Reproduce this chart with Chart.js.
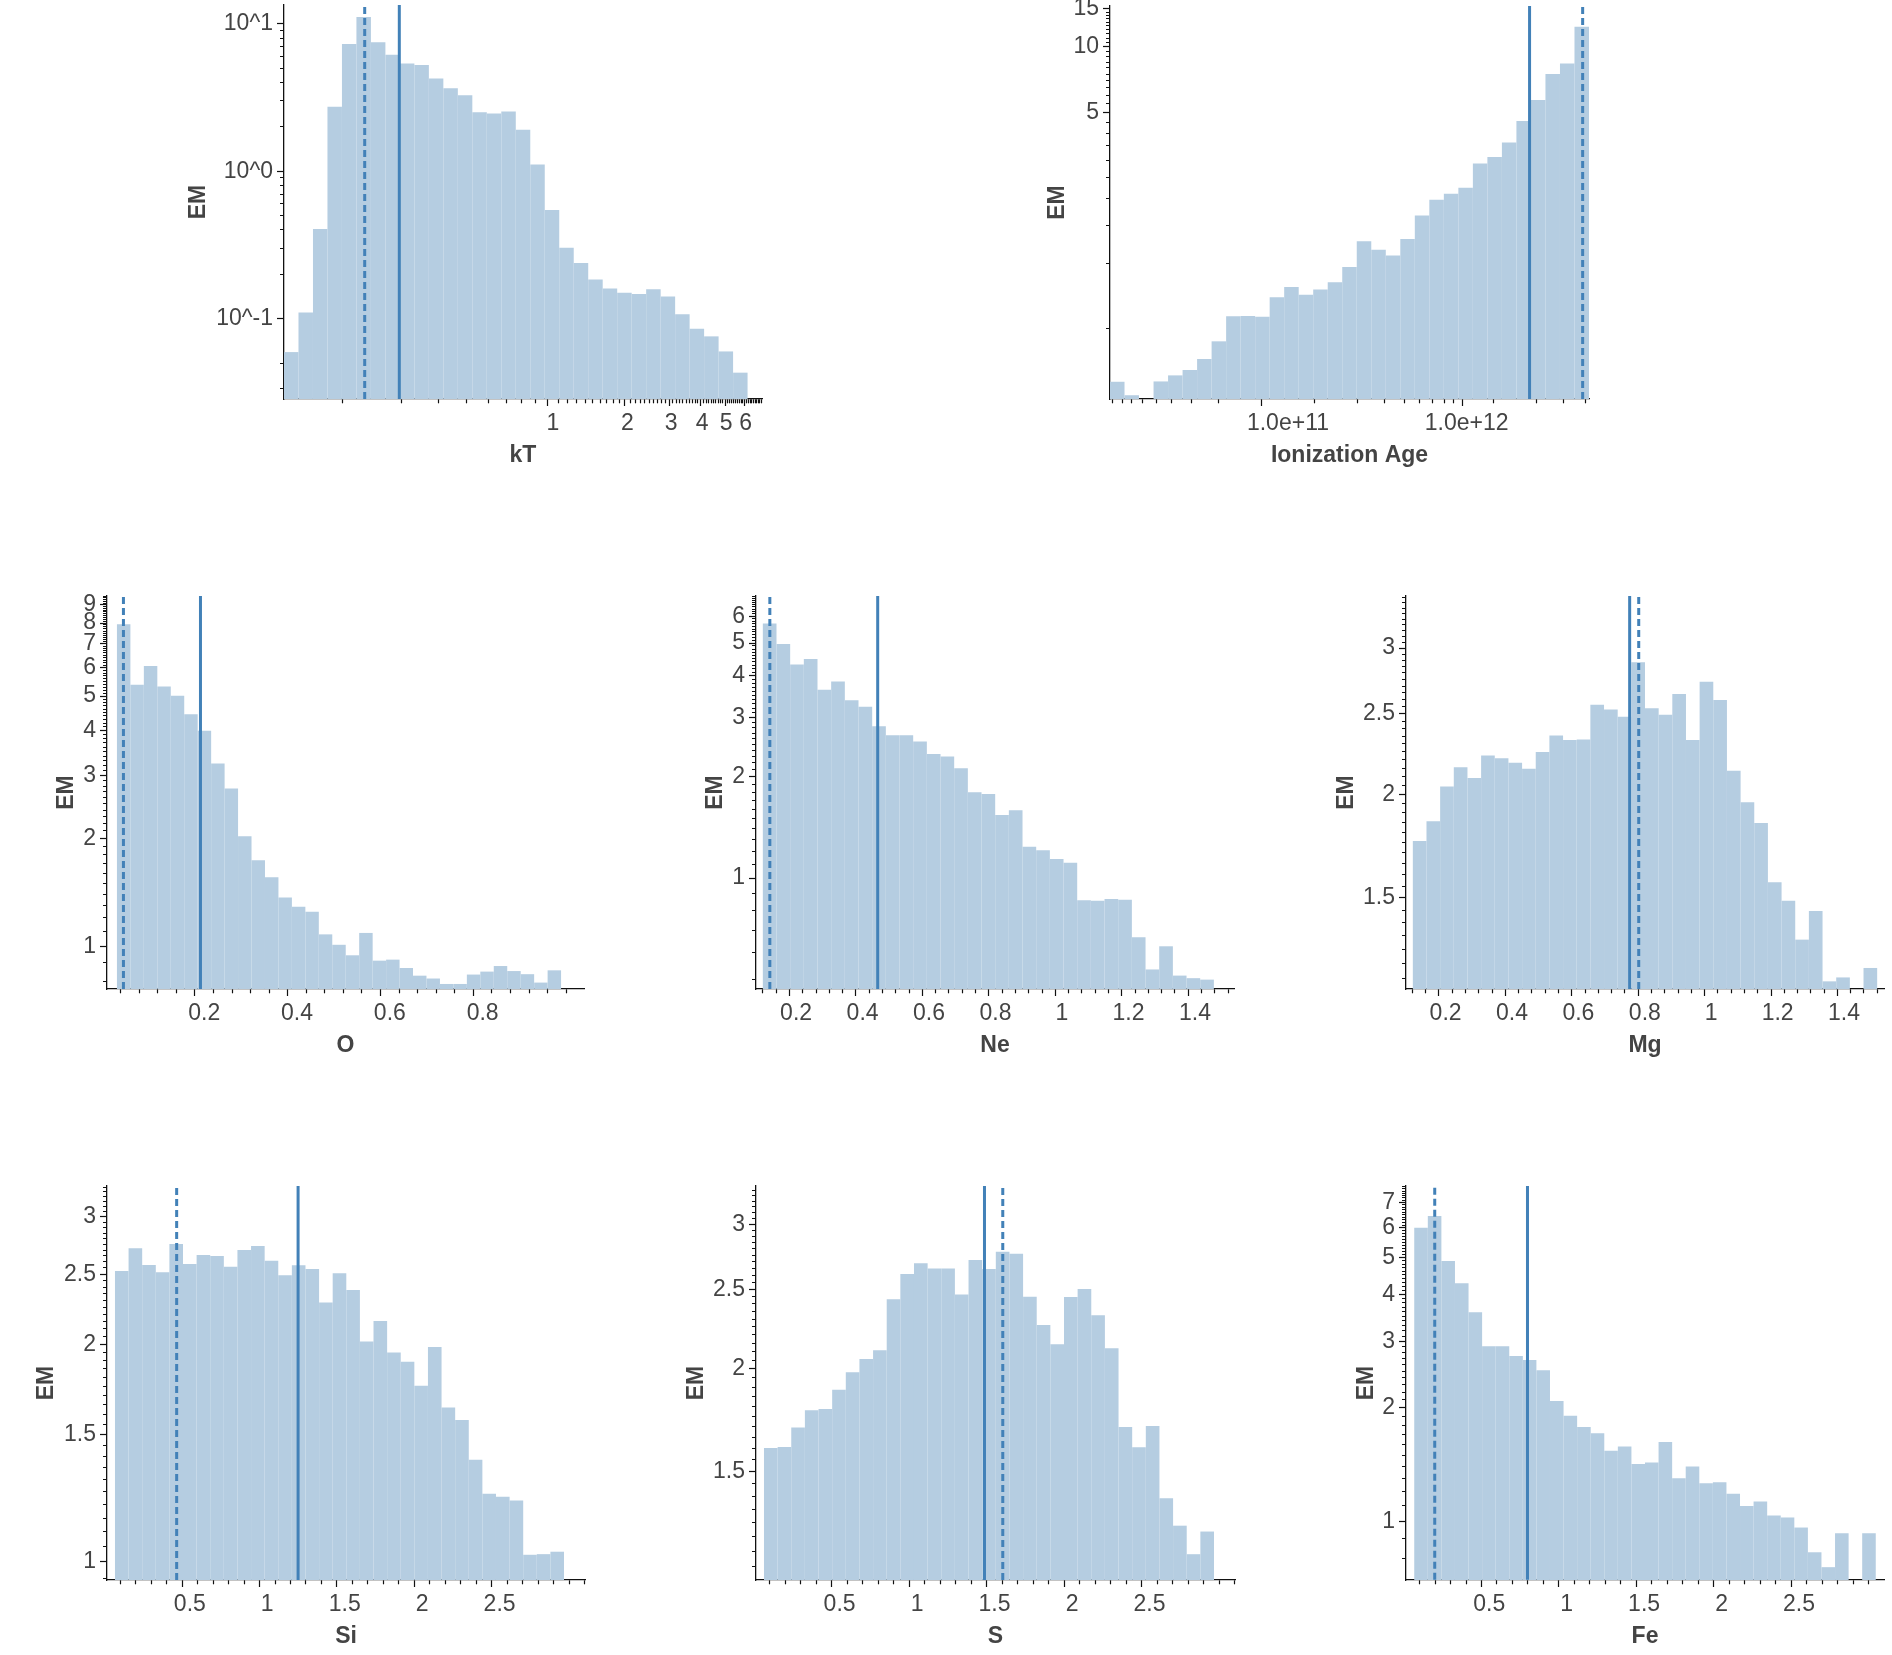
<!DOCTYPE html>
<html><head><meta charset="utf-8">
<script src="https://cdn.jsdelivr.net/npm/chart.js@4.4.1/dist/chart.umd.min.js"></script>
<style>
html,body{margin:0;padding:0;background:#fff;}
body{width:1892px;height:1655px;position:relative;overflow:hidden;}
canvas{position:absolute;}
</style></head><body>
<script>
// ---------------- data ----------------
const ktValues = [0.0593,0.110,0.406,2.74,7.29,11.1,7.48,6.15,5.37,5.24,4.26,3.65,3.27,2.51,2.46,2.54,1.91,1.11,0.545,0.303,0.238,0.184,0.160,0.150,0.147,0.158,0.141,0.107,0.0855,0.0758,0.0599,0.043];
const ionValues = [0.285,0.247,null,0.286,0.305,0.323,0.363,0.438,0.572,0.574,0.569,0.700,0.780,0.719,0.759,0.820,0.966,1.27,1.16,1.09,1.30,1.67,1.97,2.10,2.24,2.90,3.11,3.62,4.55,5.69,7.50,8.38,12.4];
const oValues = [7.94,5.38,6.07,5.32,5.01,4.45,4.00,3.24,2.76,2.03,1.74,1.56,1.37,1.29,1.25,1.08,1.01,0.944,1.09,0.912,0.918,0.870,0.828,0.813,0.785,0.785,0.834,0.850,0.881,0.853,0.836,0.792,0.857];
const neValues = [5.72,4.97,4.32,4.48,3.63,3.84,3.38,3.23,2.83,2.66,2.66,2.55,2.34,2.30,2.12,1.80,1.78,1.54,1.59,1.24,1.21,1.14,1.11,0.860,0.856,0.866,0.862,0.667,0.535,0.627,0.513,0.504,0.499];
const mgValues = [1.757,1.856,2.043,2.156,2.092,2.226,2.210,2.182,2.147,2.249,2.353,2.325,2.327,2.564,2.529,2.479,2.884,2.538,2.494,2.641,2.325,2.733,2.598,2.134,1.956,1.846,1.567,1.488,1.336,1.446,1.190,1.203,null,1.235];
const siValues = [2.526,2.715,2.574,2.515,2.753,2.582,2.658,2.650,2.561,2.701,2.735,2.610,2.491,2.572,2.542,2.284,2.507,2.377,2.017,2.154,1.948,1.891,1.752,1.983,1.635,1.572,1.384,1.242,1.231,1.216,1.023,1.025,1.033];
const sValues = [1.602,1.607,1.697,1.781,1.788,1.887,1.981,2.057,2.107,2.431,2.610,2.689,2.649,2.649,2.463,2.714,2.647,2.777,2.762,2.449,2.262,2.143,2.447,2.502,2.325,2.119,1.700,1.606,1.704,1.392,1.289,1.190,1.268];
const feValues = [6.004,6.448,4.899,4.276,3.584,2.913,2.913,2.746,2.680,2.516,2.087,1.905,1.781,1.714,1.539,1.580,1.421,1.433,1.625,1.302,1.398,1.263,1.271,1.184,1.100,1.130,1.037,1.025,0.964,0.829,0.757,0.931,null,0.931];

// histogram bin ranges [first edge, last edge]
const ktBins = [0.0822, 6.104];
const ionBins = [1.009e10, 4.84e12];
const oBins = [0.012, 0.969];
const neBins = [0.0999, 1.457];
const mgBins = [0.1013, 1.4997];
const siBins = [0.0167, 2.916];
const sBins = [0.0122, 2.916];
const feBins = [0.0157, 2.996];

// vertical markers [solid, dashed]
const ktLines = [0.240, 0.174];
const ionLines = [2.25e12, 4.46e12];
const oLines = [0.192, 0.026];
const neLines = [0.4455, 0.121];
const mgLines = [0.7543, 0.7816];
const siLines = [1.199, 0.415];
const sLines = [1.435, 1.553];
const feLines = [0.747, 0.148];

// axis ranges
const ktXRange = [0.0822, 6.98],   ktYRange = [0.0285, 13.4];
const ionXRange = [1.009e10, 4.84e12], ionYRange = [0.2373, 15.46];
const oXRange = [0.012, 0.997],    oYRange = [0.760, 9.52];
const neXRange = [0.0999, 1.497],  neYRange = [0.468, 6.90];
const mgXRange = [0.1013, 1.4997], mgYRange = [1.165, 3.466];
const siXRange = [0.0167, 3.0],    siYRange = [0.944, 3.311];
const sXRange = [0.0122, 3.0],     sYRange = [1.107, 3.339];
const feXRange = [0.0157, 2.996],  feYRange = [0.701, 7.74];

// major tick (labelled) values
const ktXMajor = [1,2,3,4,5,6],              ktYMajor = [0.1,1,10];
const ionXMajor = [1e11,1e12],               ionYMajor = [5,10,15];
const oXMajor = [0.2,0.4,0.6,0.8],           oYMajor = [1,2,3,4,5,6,7,8,9];
const neXMajor = [0.2,0.4,0.6,0.8,1,1.2,1.4], neYMajor = [1,2,3,4,5,6];
const mgXMajor = [0.2,0.4,0.6,0.8,1,1.2,1.4], mgYMajor = [1.5,2,2.5,3];
const siXMajor = [0.5,1,1.5,2,2.5],          siYMajor = [1,1.5,2,2.5,3];
const sXMajor = [0.5,1,1.5,2,2.5],           sYMajor = [1.5,2,2.5,3];
const feXMajor = [0.5,1,1.5,2,2.5],          feYMajor = [1,2,3,4,5,6,7];

// ---------------- rendering ----------------
const FONT = "'Liberation Sans', Helvetica, Arial, sans-serif";
const BAR = 'rgb(181,205,225)';
const LINE = '#4281b8';

function binCenters(lo, hi, n, log) {
  const out = [];
  if (log) { const a = Math.log10(lo), b = Math.log10(hi), w = (b - a) / n; for (let i = 0; i < n; i++) out.push(Math.pow(10, a + (i + 0.5) * w)); }
  else { const w = (hi - lo) / n; for (let i = 0; i < n; i++) out.push(lo + (i + 0.5) * w); }
  return out;
}

function buildTicks(range, majors, minorStep, fmt) {
  const [min, max] = range;
  const ticks = majors.filter(v => v >= min && v <= max).map(v => ({value: v, mj: true, lab: fmt(v)}));
  const near = v => majors.some(m => Math.abs(m - v) < Math.abs(m) * 1e-6);
  if (minorStep === 'log') {
    const d0 = Math.ceil(Math.log10(min) - 1e-9), d1 = Math.floor(Math.log10(max) + 1e-9);
    const top = Math.pow(10, d0);
    for (let k = 2; k <= 9; k++) { const v = top / k; if (v >= min) ticks.push({value: v, mj: false, lab: ''}); }
    for (let d = d0; d <= d1; d++) for (let k = 2; k <= 9; k++) { const v = k * Math.pow(10, d); if (v <= max) ticks.push({value: v, mj: false, lab: ''}); }
  } else {
    const k0 = Math.max(1, Math.ceil(min / minorStep - 1e-9)), k1 = Math.floor(max / minorStep + 1e-9);
    for (let k = k0; k <= k1; k++) { const v = +(k * minorStep).toFixed(10); if (!near(v)) ticks.push({value: v, mj: false, lab: ''}); }
  }
  return ticks.sort((a, b) => a.value - b.value);
}

const fmtNum = v => String(+v.toFixed(6));
const fmtPow = v => '10^' + Math.round(Math.log10(v));
const fmtExp = v => v.toExponential(1);

function axisCfg(o) {
  const horiz = o.position === 'bottom';
  return {
    type: o.type, position: o.position, min: o.range[0], max: o.range[1],
    afterBuildTicks: s => { s.ticks = o.ticks.map(t => ({value: t.value, mj: t.mj, lab: t.lab})); },
    afterFit: s => {
      if (horiz) { s.height = o.size; s.paddingLeft = 0; s.paddingRight = 0; }
      else { s.width = o.size; s.paddingTop = 0; s.paddingBottom = 0; }
    },
    ticks: { autoSkip: false, maxRotation: 0, minRotation: 0, padding: horiz ? 4 : 4, color: '#444',
      font: {family: FONT, size: 23}, callback: (v, i, t) => t[i].lab },
    grid: {
      display: true, drawOnChartArea: false, drawTicks: true, tickLength: 7, tickWidth: 1.2, tickColor: '#111',
      tickBorderDash: c => (c.tick && c.tick.mj) ? [] : (horiz ? [4, 100] : [0, 3, 4, 100])
    },
    border: { display: true, color: '#111', width: 1.3 },
    title: { display: true, text: o.title, color: '#444', font: {family: FONT, size: 23, weight: 'bold'}, padding: 0 }
  };
}

const panels = [
  {xTitle:'kT', xType:'logarithmic', yType:'logarithmic', values:ktValues, bins:ktBins, xRange:ktXRange, yRange:ktYRange, lines:ktLines,
   xTicks: buildTicks(ktXRange, ktXMajor, 0.1, fmtNum), yTicks: buildTicks(ktYRange, ktYMajor, 'log', fmtPow)},
  {xTitle:'Ionization Age', xType:'logarithmic', yType:'logarithmic', values:ionValues, bins:ionBins, xRange:ionXRange, yRange:ionYRange, lines:ionLines,
   xTicks: buildTicks(ionXRange, ionXMajor, 'log', fmtExp), yTicks: buildTicks(ionYRange, ionYMajor, 0.5, fmtNum)},
  {xTitle:'O', xType:'linear', yType:'logarithmic', values:oValues, bins:oBins, xRange:oXRange, yRange:oYRange, lines:oLines,
   xTicks: buildTicks(oXRange, oXMajor, 0.04, fmtNum), yTicks: buildTicks(oYRange, oYMajor, 0.1, fmtNum)},
  {xTitle:'Ne', xType:'linear', yType:'logarithmic', values:neValues, bins:neBins, xRange:neXRange, yRange:neYRange, lines:neLines,
   xTicks: buildTicks(neXRange, neXMajor, 0.04, fmtNum), yTicks: buildTicks(neYRange, neYMajor, 0.1, fmtNum)},
  {xTitle:'Mg', xType:'linear', yType:'logarithmic', values:mgValues, bins:mgBins, xRange:mgXRange, yRange:mgYRange, lines:mgLines,
   xTicks: buildTicks(mgXRange, mgXMajor, 0.04, fmtNum), yTicks: buildTicks(mgYRange, mgYMajor, 0.05, fmtNum)},
  {xTitle:'Si', xType:'linear', yType:'logarithmic', values:siValues, bins:siBins, xRange:siXRange, yRange:siYRange, lines:siLines,
   xTicks: buildTicks(siXRange, siXMajor, 0.1, fmtNum), yTicks: buildTicks(siYRange, siYMajor, 0.05, fmtNum)},
  {xTitle:'S', xType:'linear', yType:'logarithmic', values:sValues, bins:sBins, xRange:sXRange, yRange:sYRange, lines:sLines,
   xTicks: buildTicks(sXRange, sXMajor, 0.1, fmtNum), yTicks: buildTicks(sYRange, sYMajor, 0.05, fmtNum)},
  {xTitle:'Fe', xType:'linear', yType:'logarithmic', values:feValues, bins:feBins, xRange:feXRange, yRange:feYRange, lines:feLines,
   xTicks: buildTicks(feXRange, feXMajor, 0.1, fmtNum), yTicks: buildTicks(feYRange, feYMajor, 0.1, fmtNum)}
];

// plot-area boxes [left, top, right, bottom] and y-title offset from axis
const layoutBoxes = [
  {box:[284,5,762,399], em:85},
  {box:[1110,6,1589,399], em:52},
  {box:[107,596,584,989], em:40},
  {box:[756,596,1234,989], em:40},
  {box:[1406,596,1884,989], em:59},
  {box:[107,1186,585,1580], em:60},
  {box:[756,1186,1235,1580], em:59},
  {box:[1406,1186,1884,1580], em:39}
];

panels.forEach((p, idx) => {
  const lb = layoutBoxes[idx];
  const [L, T, R, B] = lb.box;
  const yw = lb.em + 14, xh = 70, padT = Math.min(T, 14), padR = 6;
  const W = Math.round(yw + (R - L) + padR), H = Math.round(padT + (B - T) + xh);
  const cv = document.createElement('canvas');
  cv.width = W; cv.height = H;
  cv.style.left = (L - yw) + 'px'; cv.style.top = (T - padT) + 'px';
  cv.style.width = W + 'px'; cv.style.height = H + 'px';
  document.body.appendChild(cv);

  const centers = binCenters(p.bins[0], p.bins[1], p.values.length, p.xType === 'logarithmic');
  const [yMin, yMax] = p.yRange;
  new Chart(cv, {
    type: 'bar',
    data: { datasets: [
      { type: 'bar', data: centers.map((c, i) => ({x: c, y: p.values[i]})), backgroundColor: BAR, borderWidth: 0,
        inflateAmount: 0, barThickness: 'flex', categoryPercentage: 1, barPercentage: 1, order: 2 },
      { type: 'line', data: [{x: p.lines[0], y: yMin}, {x: p.lines[0], y: yMax}], borderColor: LINE, borderWidth: 3,
        pointRadius: 0, fill: false, order: 1 },
      { type: 'line', data: [{x: p.lines[1], y: yMin}, {x: p.lines[1], y: yMax}], borderColor: LINE, borderWidth: 3,
        borderDash: [7, 4], pointRadius: 0, fill: false, order: 1 }
    ]},
    options: {
      responsive: false, animation: false, devicePixelRatio: 1,
      layout: { padding: { top: padT, right: padR, left: 0, bottom: 0 } },
      plugins: { legend: { display: false }, tooltip: { enabled: false } },
      scales: {
        x: axisCfg({type: p.xType, position: 'bottom', range: p.xRange, ticks: p.xTicks, size: xh, title: p.xTitle}),
        y: axisCfg({type: p.yType, position: 'left', range: p.yRange, ticks: p.yTicks, size: yw, title: 'EM'})
      }
    }
  });
});
</script>
</body></html>
